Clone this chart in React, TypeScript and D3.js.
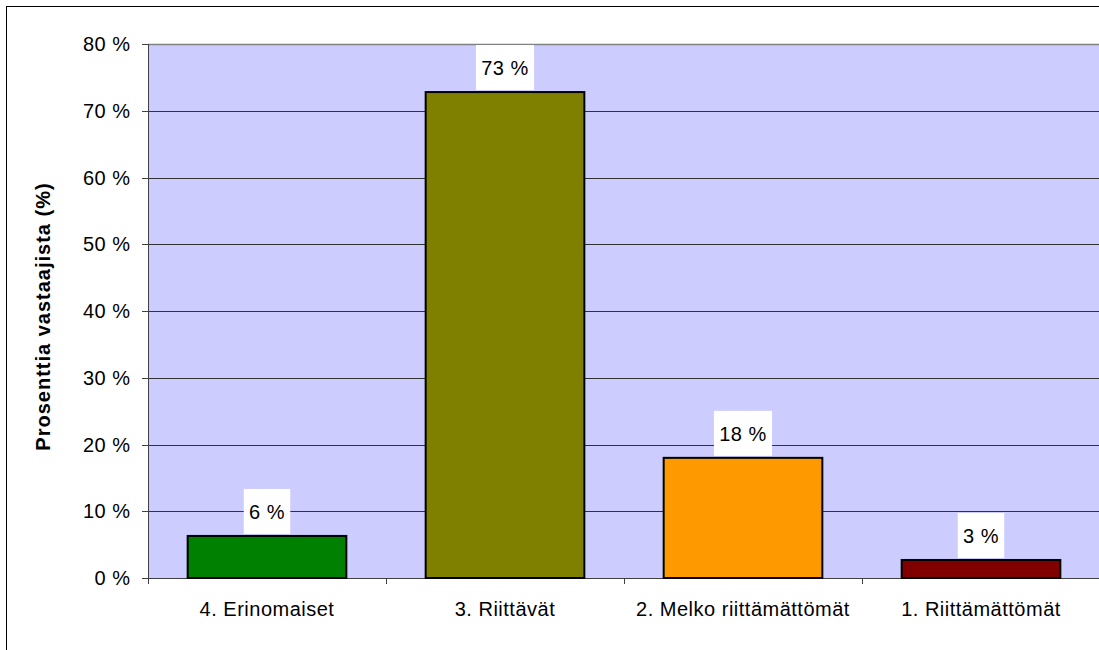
import React from "react";
import * as d3 from "d3";

// arvot luettu kuvasta
const categories = ["4. Erinomaiset", "3. Riittävät", "2. Melko riittämättömät", "1. Riittämättömät"];
const values = [6.3, 72.8, 18.0, 2.7];
const valueLabels = ["6 %", "73 %", "18 %", "3 %"];
const barColors = ["#008000", "#808000", "#FF9900", "#800000"];
const yTicks = [0, 10, 20, 30, 40, 50, 60, 70, 80];

const W = 1099;
const H = 650;
const plot = { left: 148, top: 44, right: 1100, bottom: 578 };
const FONT = "'Liberation Sans', Arial, sans-serif";
const FS = 20;
const LS = 0.5;

const measure = (s: string) => {
  const ctx = document.createElement("canvas").getContext("2d");
  if (!ctx) return s.length * 11;
  ctx.font = `${FS}px ${FONT}`;
  return ctx.measureText(s).width + LS * (s.length - 1);
};

const App: React.FC = () => {
  const x = d3
    .scaleBand<string>()
    .domain(categories)
    .range([plot.left, plot.right])
    .paddingInner(1 / 3)
    .paddingOuter(1 / 6);
  const step = x.step();
  const y = d3.scaleLinear().domain([0, 80]).range([plot.bottom, plot.top]);

  return (
    <svg
      width={W}
      height={H}
      style={{ position: "absolute", left: 0, top: 0, background: "#fff" }}
      fontFamily={FONT}
    >
      {/* ulkoreunus */}
      <rect x={6.5} y={6.5} width={W + 10} height={H + 10} fill="#fff" stroke="#000" strokeWidth={1} />

      {/* piirtoalue */}
      <rect
        x={plot.left}
        y={plot.top}
        width={plot.right - plot.left}
        height={plot.bottom - plot.top}
        fill="#CCCCFF"
      />
      <line x1={plot.left} x2={plot.right} y1={plot.top + 0.5} y2={plot.top + 0.5} stroke="#808080" strokeWidth={1.5} />

      {/* ruudukko */}
      {yTicks.slice(1, -1).map((t) => (
        <line
          key={t}
          x1={plot.left}
          x2={plot.right}
          y1={Math.round(y(t)) + 0.5}
          y2={Math.round(y(t)) + 0.5}
          stroke="#333"
          strokeWidth={1}
        />
      ))}

      {/* y-akseli */}
      <line x1={plot.left + 0.5} x2={plot.left + 0.5} y1={plot.top} y2={plot.bottom + 6} stroke="#404040" />
      {yTicks.map((t) => (
        <g key={t}>
          <line
            x1={plot.left - 6}
            x2={plot.left}
            y1={Math.round(y(t)) + 0.5}
            y2={Math.round(y(t)) + 0.5}
            stroke="#404040"
          />
          <text
            x={130.5}
            y={y(t)}
            dy="0.36em"
            textAnchor="end"
            fontSize={FS}
            letterSpacing={LS}
            fill="#000"
          >
            {t} %
          </text>
        </g>
      ))}

      {/* x-akseli */}
      <line x1={plot.left} x2={plot.right} y1={plot.bottom + 0.5} y2={plot.bottom + 0.5} stroke="#404040" />
      {categories.map((c, i) => (
        <line
          key={"t" + c}
          x1={Math.round(plot.left + step * (i + 1)) + 0.5}
          x2={Math.round(plot.left + step * (i + 1)) + 0.5}
          y1={plot.bottom}
          y2={plot.bottom + 6}
          stroke="#404040"
        />
      ))}

      {/* palkit */}
      {categories.map((c, i) => {
        const bx = x(c) as number;
        const by = y(values[i]);
        const cx = bx + x.bandwidth() / 2;
        const tw = measure(valueLabels[i]) + 11;
        return (
          <g key={c}>
            <rect
              x={bx}
              y={by}
              width={x.bandwidth()}
              height={plot.bottom - by}
              fill={barColors[i]}
              stroke="#000"
              strokeWidth={2}
            />
            <rect x={cx - tw / 2} y={by - 47} width={tw} height={45} fill="#fff" />
            <text
              x={cx}
              y={by - 24.5}
              dy="0.36em"
              textAnchor="middle"
              fontSize={FS}
              letterSpacing={LS}
              fill="#000"
            >
              {valueLabels[i]}
            </text>
            <text x={cx} y={616} textAnchor="middle" fontSize={FS} letterSpacing={LS} fill="#000">
              {c}
            </text>
          </g>
        );
      })}

      {/* y-akselin otsikko */}
      <text
        transform={`translate(50, 316.5) rotate(-90)`}
        textAnchor="middle"
        fontSize={FS}
        fontWeight="bold"
        letterSpacing={1}
        fill="#000"
      >
        Prosenttia vastaajista (%)
      </text>
    </svg>
  );
};

export default App;
